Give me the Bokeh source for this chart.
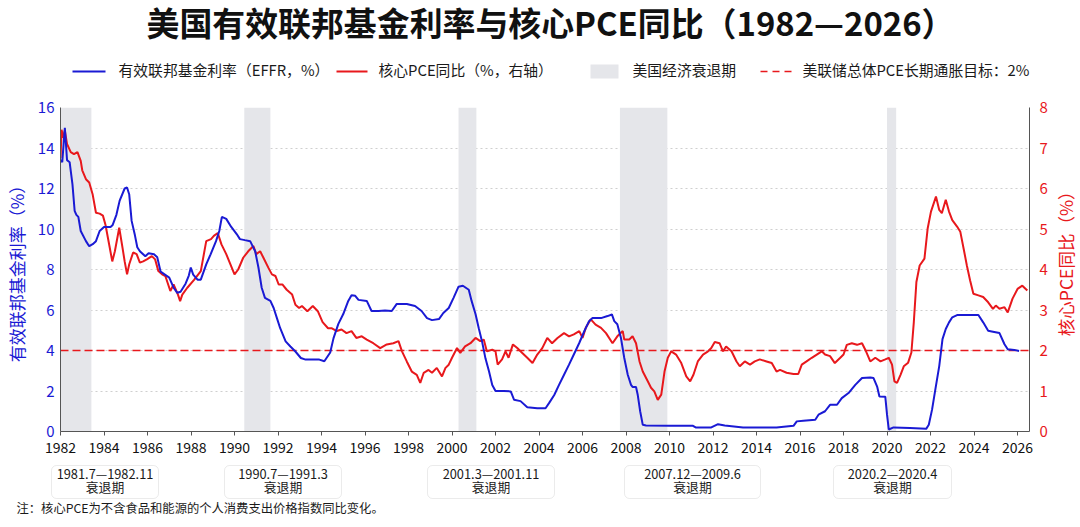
from bokeh.plotting import figure
from bokeh.layouts import column, row
from bokeh.models import Range1d, LinearAxis, Label, FixedTicker, BoxAnnotation
from bokeh.core.properties import value
from bokeh.embed import file_html
from bokeh.resources import INLINE

FONT = "Noto Sans CJK SC"
BLUE = "#1a1ad4"
RED = "#e8181c"
REC_FILL = "#e5e6ea"
TXT = "#1a1a1a"

TITLE = "美国有效联邦基金利率与核心PCE同比（1982—2026）"
NOTE = "注：核心PCE为不含食品和能源的个人消费支出价格指数同比变化。"
LEFT_LABEL = "有效联邦基金利率（%）"
RIGHT_LABEL = "核心PCE同比（%）"

# ---- data ----
effr_year = [1982.00, 1982.08, 1982.20, 1982.30, 1982.42, 1982.55, 1982.65, 1982.73, 1982.82, 1982.93,
             1983.17, 1983.32, 1983.48, 1983.63, 1983.80, 1984.00, 1984.15, 1984.30, 1984.40, 1984.57,
             1984.72, 1984.95, 1985.06, 1985.16, 1985.27, 1985.42, 1985.53, 1985.65, 1985.90, 1986.05,
             1986.30, 1986.45, 1986.60, 1986.80, 1987.00, 1987.20, 1987.37, 1987.52, 1987.75, 1987.90,
             1987.99, 1988.10, 1988.30, 1988.45, 1988.70, 1988.90, 1989.15, 1989.30, 1989.42, 1989.62,
             1989.85, 1990.10, 1990.25, 1990.48, 1990.72, 1990.95, 1991.10, 1991.25, 1991.40, 1991.65,
             1991.80, 1991.95, 1992.10, 1992.35, 1992.57, 1992.80, 1993.05, 1993.27, 1993.60, 1993.90,
             1994.13, 1994.40, 1994.55, 1994.77, 1995.00, 1995.23, 1995.38, 1995.55, 1995.70, 1996.08,
             1996.30, 1996.62, 1996.92, 1997.23, 1997.46, 1997.92, 1998.30, 1998.60, 1998.85, 1999.08,
             1999.40, 1999.60, 1999.85, 2000.07, 2000.30, 2000.50, 2000.77, 2000.90, 2001.08, 2001.23,
             2001.38, 2001.54, 2001.70, 2001.85, 2002.00, 2002.38, 2002.70, 2002.85, 2003.15, 2003.46,
             2003.92, 2004.30, 2004.46, 2004.70, 2004.92, 2005.15, 2005.38, 2005.60, 2005.85, 2006.08,
             2006.30, 2006.46, 2006.85, 2007.15, 2007.35, 2007.46, 2007.60, 2007.77, 2007.92, 2008.08,
             2008.23, 2008.30, 2008.46, 2008.54, 2008.65, 2008.77, 2008.92, 2010.00, 2011.08, 2011.20,
             2011.92, 2012.23, 2012.54, 2013.38, 2014.92, 2015.70, 2015.85, 2016.15, 2016.70, 2016.85,
             2017.15, 2017.38, 2017.70, 2017.92, 2018.23, 2018.54, 2018.85, 2019.23, 2019.38, 2019.55,
             2019.65, 2019.92, 2020.00, 2020.08, 2020.30, 2021.05, 2021.80, 2021.92, 2022.07, 2022.22,
             2022.40, 2022.55, 2022.70, 2022.85, 2023.00, 2023.22, 2024.20, 2024.42, 2024.65, 2024.87,
             2025.17, 2025.40, 2025.55, 2025.85, 2026.07]
effr_value = [13.4, 13.3, 15.0, 13.4, 13.3, 12.2, 10.9, 10.7, 10.6, 9.9,
              9.4, 9.15, 9.25, 9.4, 9.9, 10.1, 10.1, 10.1, 10.2, 10.7,
              11.4, 12.0, 12.05, 11.7, 10.4, 9.7, 9.1, 8.9, 8.65, 8.8,
              8.75, 8.6, 7.9, 7.75, 7.6, 7.1, 6.85, 6.9, 7.3, 7.7,
              8.1, 7.75, 7.5, 7.5, 8.25, 8.75, 9.4, 9.9, 10.6, 10.5,
              10.1, 9.75, 9.5, 9.45, 9.4, 8.9, 8.1, 7.1, 6.6, 6.45,
              6.1, 5.6, 5.1, 4.45, 4.2, 3.95, 3.63, 3.55, 3.55, 3.55,
              3.47, 3.9, 4.6, 5.3, 5.8, 6.45, 6.73, 6.7, 6.5, 6.45,
              5.95, 5.95, 5.98, 5.95, 6.3, 6.3, 6.2, 5.95, 5.6, 5.5,
              5.55, 5.85, 6.1, 6.6, 7.15, 7.2, 7.0, 6.45, 5.8, 5.1,
              4.45, 3.6, 2.97, 2.3, 2.0, 2.0, 1.98, 1.57, 1.5, 1.2,
              1.15, 1.15, 1.4, 1.8, 2.3, 2.8, 3.3, 3.8, 4.37, 4.95,
              5.45, 5.6, 5.6, 5.7, 5.78, 5.45, 5.3, 4.6, 3.63, 2.8,
              2.3, 2.2, 2.2, 1.8, 1.0, 0.33, 0.3, 0.28, 0.28, 0.2,
              0.2, 0.36, 0.3, 0.2, 0.2, 0.28, 0.5, 0.53, 0.58, 0.83,
              1.0, 1.32, 1.32, 1.65, 1.9, 2.3, 2.64, 2.67, 2.64, 2.2,
              1.73, 1.72, 0.83, 0.1, 0.2, 0.17, 0.13, 0.33, 1.08, 2.07,
              3.23, 4.56, 5.06, 5.39, 5.64, 5.75, 5.75, 5.39, 4.98, 4.93,
              4.86, 4.31, 4.06, 4.03, 3.98]

pce_year = [1982.00, 1982.05, 1982.12, 1982.20, 1982.30, 1982.47, 1982.62, 1982.78, 1982.93, 1983.00,
            1983.17, 1983.32, 1983.48, 1983.63, 1983.80, 1983.95, 1984.07, 1984.25, 1984.38, 1984.50,
            1984.70, 1984.85, 1984.95, 1985.06, 1985.16, 1985.34, 1985.50, 1985.65, 1985.80, 1985.97,
            1986.20, 1986.35, 1986.50, 1986.67, 1986.82, 1987.05, 1987.20, 1987.40, 1987.50, 1987.60,
            1987.83, 1988.15, 1988.45, 1988.70, 1988.92, 1989.05, 1989.23, 1989.40, 1989.62, 1989.85,
            1990.00, 1990.17, 1990.40, 1990.63, 1990.87, 1991.00, 1991.18, 1991.33, 1991.56, 1991.72,
            1991.88, 1992.03, 1992.20, 1992.40, 1992.65, 1992.80, 1992.97, 1993.10, 1993.35, 1993.60,
            1993.83, 1994.05, 1994.30, 1994.46, 1994.70, 1994.92, 1995.15, 1995.38, 1995.60, 1995.85,
            1996.08, 1996.38, 1996.70, 1997.00, 1997.30, 1997.54, 1997.70, 1997.92, 1998.15, 1998.38,
            1998.54, 1998.70, 1998.92, 1999.08, 1999.30, 1999.54, 1999.70, 1999.85, 2000.00, 2000.23,
            2000.38, 2000.60, 2000.85, 2001.08, 2001.30, 2001.46, 2001.60, 2001.85, 2002.00, 2002.10,
            2002.30, 2002.46, 2002.60, 2002.80, 2003.00, 2003.23, 2003.46, 2003.70, 2003.92, 2004.15,
            2004.38, 2004.60, 2004.85, 2005.15, 2005.38, 2005.60, 2005.85, 2006.00, 2006.15, 2006.38,
            2006.60, 2006.85, 2007.08, 2007.38, 2007.60, 2007.85, 2007.92, 2008.15, 2008.30, 2008.46,
            2008.62, 2008.77, 2009.00, 2009.15, 2009.30, 2009.46, 2009.62, 2009.77, 2009.92, 2010.08,
            2010.30, 2010.54, 2010.77, 2010.95, 2011.10, 2011.30, 2011.54, 2011.77, 2011.92, 2012.08,
            2012.30, 2012.46, 2012.60, 2012.85, 2013.08, 2013.23, 2013.46, 2013.70, 2013.92, 2014.15,
            2014.46, 2014.70, 2014.92, 2015.08, 2015.38, 2015.70, 2015.92, 2016.08, 2016.30, 2016.54,
            2016.77, 2017.00, 2017.15, 2017.38, 2017.60, 2017.85, 2018.00, 2018.15, 2018.38, 2018.62,
            2018.85, 2019.00, 2019.23, 2019.46, 2019.70, 2019.92, 2020.08, 2020.23, 2020.34, 2020.46,
            2020.62, 2020.77, 2020.97, 2021.12, 2021.23, 2021.35, 2021.50, 2021.72, 2021.87, 2022.02,
            2022.25, 2022.40, 2022.52, 2022.70, 2022.85, 2023.00, 2023.22, 2023.37, 2023.52, 2023.67,
            2023.82, 2023.97, 2024.20, 2024.42, 2024.65, 2024.87, 2025.00, 2025.17, 2025.40, 2025.55,
            2025.77, 2026.00, 2026.22, 2026.45]
pce_value = [6.75, 7.45, 7.25, 7.43, 7.1, 6.9, 6.85, 6.9, 6.68, 6.45,
             6.23, 6.15, 5.85, 5.4, 5.38, 5.33, 5.1, 4.58, 4.2, 4.45,
             5.03, 4.54, 4.2, 3.88, 4.13, 4.42, 4.38, 4.17, 4.2, 4.25,
             4.33, 4.25, 3.96, 3.88, 3.84, 3.47, 3.63, 3.38, 3.22, 3.38,
             3.55, 3.75, 3.96, 4.7, 4.75, 4.83, 4.9, 4.62, 4.38, 4.08,
             3.88, 4.0, 4.29, 4.45, 4.58, 4.38, 4.45, 4.29, 4.04, 3.88,
             3.84, 3.63, 3.63, 3.5, 3.38, 3.13, 3.05, 3.1, 2.97, 3.1,
             2.97, 2.7, 2.55, 2.55, 2.48, 2.52, 2.43, 2.48, 2.31, 2.35,
             2.27, 2.18, 2.06, 2.15, 2.18, 2.23, 1.98, 1.73, 1.48, 1.4,
             1.2, 1.45, 1.52, 1.45, 1.57, 1.36, 1.57, 1.65, 1.82, 2.06,
             1.94, 2.1, 2.18, 2.31, 2.23, 2.27, 1.98, 2.02, 1.98, 1.65,
             1.78, 1.98, 1.82, 2.15, 2.06, 1.94, 1.82, 1.69, 1.9, 2.06,
             2.31, 2.18, 2.31, 2.43, 2.35, 2.4, 2.48, 2.31, 2.56, 2.77,
             2.64, 2.56, 2.43, 2.18, 2.35, 2.48, 2.27, 2.27, 2.35, 2.18,
             1.73, 1.48, 1.24, 1.08, 0.99, 0.78, 0.91, 1.48, 1.82, 1.98,
             1.9, 1.69, 1.36, 1.24, 1.4, 1.73, 1.9, 1.98, 2.06, 2.21,
             2.18, 1.98, 2.1, 1.98, 1.73, 1.61, 1.73, 1.65, 1.73, 1.78,
             1.73, 1.69, 1.48, 1.52, 1.45, 1.42, 1.42, 1.65, 1.73, 1.82,
             1.9, 1.98, 1.9, 1.86, 1.69, 1.82, 1.9, 2.14, 2.18, 2.14,
             2.18, 2.02, 1.73, 1.82, 1.73, 1.78, 1.82, 1.65, 1.24, 1.2,
             1.4, 1.61, 1.7, 1.95, 2.69, 3.69, 4.1, 4.27, 5.02, 5.43,
             5.8, 5.47, 5.39, 5.72, 5.43, 5.22, 5.06, 4.93, 4.52, 4.1,
             3.73, 3.4, 3.36, 3.32, 3.19, 3.03, 3.11, 3.03, 3.07, 2.94,
             3.28, 3.52, 3.6, 3.48]

rec_start = [1982.0, 1990.45, 2000.3, 2007.72, 2020.0]
rec_end = [1983.42, 1991.65, 2001.12, 2009.9, 2020.42]
rec_labels = ["1981.7—1982.11", "1990.7—1991.3", "2001.3—2001.11", "2007.12—2009.6", "2020.2—2020.4"]
rec_word = "衰退期"
legend_labels = ["有效联邦基金利率（EFFR，%）", "核心PCE同比（%，右轴）",
                 "美国经济衰退期", "美联储总体PCE长期通胀目标：2%"]

target = 2.0
x_ticks = list(range(1982, 2027, 2))
left_ticks = list(range(0, 17, 2))
right_ticks = list(range(0, 9, 1))
X_START, X_END = 1982.0, 2026.55
LEFT_MAX, RIGHT_MAX = 16, 8

# ---- layout constants (pixels) ----
W = 1078
HEAD_H, MAIN_H, FOOT_H = 97, 365, 63
MAIN_W = 1052
STRIP_W = W - MAIN_W
legend_key_x = [72, 336, 590, 760]
legend_text_x = [118, 378, 632, 802]
box_left = [51, 224, 427, 624, 833]
box_right = [158, 341, 554, 760, 951]


def blank(width, height):
    f = figure(width=width, height=height, output_backend="svg", toolbar_location=None,
               x_range=Range1d(0, width), y_range=Range1d(0, height),
               x_axis_location=None, y_axis_location=None,
               min_border=0, min_border_left=0, min_border_right=0,
               min_border_top=0, min_border_bottom=0)
    f.outline_line_color = None
    f.xgrid.visible = False
    f.ygrid.visible = False
    return f


# ---- header: title + legend ----
head = blank(W, HEAD_H)
head.add_layout(Label(x=550, y=76, text=TITLE, text_align="center", text_baseline="middle",
                      text_font=FONT, text_font_size="32.9px", text_font_style="bold",
                      text_color="#111111"))
ky = 26
head.segment(x0=[legend_key_x[0]], y0=[ky], x1=[legend_key_x[0] + 33], y1=[ky],
             line_color=BLUE, line_width=2)
head.segment(x0=[legend_key_x[1]], y0=[ky], x1=[legend_key_x[1] + 31], y1=[ky],
             line_color=RED, line_width=2)
head.quad(left=[legend_key_x[2]], right=[legend_key_x[2] + 28], bottom=[ky - 7], top=[ky + 7],
          fill_color=REC_FILL, line_color=None)
head.segment(x0=[legend_key_x[3]], y0=[ky], x1=[legend_key_x[3] + 31], y1=[ky],
             line_color=RED, line_width=1.6, line_dash="7 5")
head.text(x=legend_text_x, y=[ky + 2.5] * 4, text=legend_labels,
          text_font=value(FONT), text_font_size="14.8px", text_color=TXT,
          text_align="left", text_baseline="middle")

# ---- main chart ----
p = figure(width=MAIN_W, height=MAIN_H, output_backend="svg", toolbar_location=None,
           x_range=Range1d(X_START, X_END), y_range=Range1d(0, LEFT_MAX),
           min_border_left=54, min_border_right=23, min_border_top=10, min_border_bottom=31)
p.extra_y_ranges = {"right": Range1d(0, RIGHT_MAX)}
p.outline_line_color = None

p.quad(left=rec_start, right=rec_end, bottom=0, top=LEFT_MAX, fill_color=REC_FILL, line_color=None)
p.line(x=[X_START, X_END], y=[target, target], y_range_name="right",
       line_color=RED, line_width=1.6, line_dash="8 4")
p.line(x=pce_year, y=pce_value, y_range_name="right", line_color=RED, line_width=2)
p.line(x=effr_year, y=effr_value, line_color=BLUE, line_width=2)

xa = p.xaxis[0]
xa.ticker = FixedTicker(ticks=x_ticks)
xa.major_label_text_font = FONT
xa.major_label_text_font_size = "14px"
xa.major_label_text_color = "#111111"
xa.axis_line_color = "#555555"
xa.major_tick_line_color = "#555555"
xa.major_tick_out = 4
xa.major_tick_in = 0
xa.minor_tick_line_color = None
xa.minor_tick_out = 0
xa.major_label_standoff = 6

ya = p.yaxis[0]
ya.ticker = FixedTicker(ticks=left_ticks)
ya.major_label_text_font = FONT
ya.major_label_text_font_size = "15px"
ya.major_label_text_color = BLUE
ya.axis_line_color = "#555555"
ya.major_tick_line_color = None
ya.major_tick_out = 0
ya.minor_tick_line_color = None
ya.minor_tick_out = 0
ya.major_label_standoff = 6
ya.axis_label = LEFT_LABEL
ya.axis_label_text_font = FONT
ya.axis_label_text_font_size = "17px"
ya.axis_label_text_font_style = "normal"
ya.axis_label_text_color = BLUE
ya.axis_label_standoff = 6

ra = LinearAxis(y_range_name="right", ticker=FixedTicker(ticks=right_ticks))
ra.major_label_text_font = FONT
ra.major_label_text_font_size = "15px"
ra.major_label_text_color = RED
ra.axis_line_color = "#555555"
ra.major_tick_line_color = None
ra.major_tick_out = 0
ra.minor_tick_line_color = None
ra.minor_tick_out = 0
ra.major_label_standoff = 10
p.add_layout(ra, "right")

p.xgrid.visible = False
p.ygrid.ticker = FixedTicker(ticks=left_ticks)
p.ygrid.grid_line_color = "#cfcfcf"
p.ygrid.grid_line_dash = "2 3"
p.ygrid.grid_line_width = 1

# right-axis title in a thin strip next to the chart
strip = blank(STRIP_W, MAIN_H)
strip.add_layout(Label(x=13, y=194, text=RIGHT_LABEL, angle=90, angle_units="deg",
                       text_align="center", text_baseline="middle",
                       text_font=FONT, text_font_size="17.5px", text_color=RED))

# ---- footer: recession boxes + note ----
foot = blank(W, FOOT_H)
for bl, br in zip(box_left, box_right):
    foot.add_layout(BoxAnnotation(left=bl, right=br, bottom=27, top=60,
                                  fill_color=None, line_color="#bdbdbd", line_width=1,
                                  border_radius=5))
box_cx = [(a + b) / 2 for a, b in zip(box_left, box_right)]
foot.text(x=box_cx, y=[52] * 5, text=rec_labels, text_font=value(FONT), text_font_size="12.8px",
          text_color=TXT, text_align="center", text_baseline="middle")
foot.text(x=box_cx, y=[39.5] * 5, text=[rec_word] * 5, text_font=value(FONT),
          text_font_size="12.8px", text_color=TXT, text_align="center", text_baseline="middle")
foot.text(x=[16], y=[18], text=[NOTE], text_font=value(FONT), text_font_size="12.3px",
          text_color=TXT, text_align="left", text_baseline="middle")

layout = column(head, row(p, strip, spacing=0), foot, spacing=0)
open("out.html", "w").write(file_html(layout, INLINE))
